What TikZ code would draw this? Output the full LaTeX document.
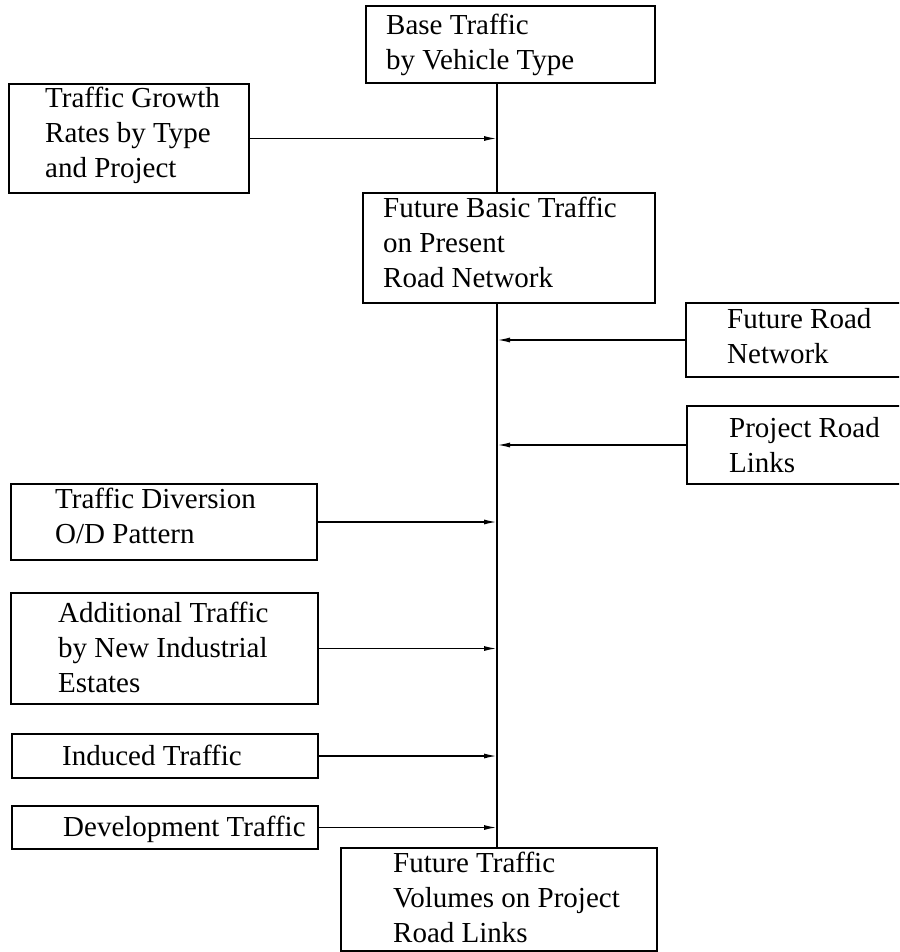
\documentclass[tikz,border=0pt]{standalone}
\usepackage{fontspec}
\setmainfont{Liberation Serif}
\usetikzlibrary{arrows.meta}
\begin{document}
\begin{tikzpicture}[x=1pt,y=-1pt,
  box/.style={draw, line width=2pt, inner sep=0pt, anchor=north west},
  txt/.style={anchor=base west, inner sep=0pt, align=left, font=\fontsize{29}{35}\selectfont},
  link/.style={line width=1.8pt},
  arr/.style={line width=1.5pt, -{Latex[length=13pt,width=5pt]}}]
\clip (0,0) rectangle (899,952);
\fill[white] (0,0) rectangle (899,952);
\coordinate (t) at (497,0);
% boxes
\node[box, minimum width=289, minimum height=77] (base) at (365,5) {};
\node[box, minimum width=240, minimum height=109] (growth) at (8,83) {};
\node[box, minimum width=292, minimum height=110] (fb) at (362,192) {};
\node[box, minimum width=240, minimum height=74] (fr) at (685,302) {};
\node[box, minimum width=240, minimum height=78] (pr) at (686,405) {};
\node[box, minimum width=306, minimum height=76] (div) at (10,483) {};
\node[box, minimum width=307, minimum height=111] (add) at (10,592) {};
\node[box, minimum width=306, minimum height=44] (ind) at (11,733) {};
\node[box, minimum width=306, minimum height=43] (dev) at (11,805) {};
\node[box, minimum width=316, minimum height=103] (fv) at (340,847) {};
% texts (anchor = baseline of last line)
\node[txt] (tbase) at (386,70) {Base Traffic\\by Vehicle Type};
\node[txt] (tgrowth) at (45,178) {Traffic Growth\\Rates by Type\\and Project};
\node[txt] (tfb) at (383,287) {Future Basic Traffic\\on Present\\Road Network};
\node[txt] (tfr) at (727,363) {Future Road\\Network};
\node[txt] (tpr) at (729,472) {Project Road\\Links};
\node[txt] (tdiv) at (55,543) {Traffic Diversion\\O/D Pattern};
\node[txt] (tadd) at (58,692) {Additional Traffic\\by New Industrial\\Estates};
\node[txt] (tind) at (62,765) {Induced Traffic};
\node[txt] (tdev) at (63,836) {Development Traffic};
\node[txt] (tfv) at (393,942) {Future Traffic\\Volumes on Project\\Road Links};
% trunk
\draw[link] (base.south -| t) -- (fb.north -| t);
\draw[link] (fb.south -| t) -- (fv.north -| t);
% arrows
\draw[arr] (growth.east) -- (growth.east -| t);
\draw[arr] (fr.west) -- (fr.west -| t);
\draw[arr] (pr.west) -- (pr.west -| t);
\draw[arr] (div.east) -- (div.east -| t);
\draw[arr] (add.east) -- (add.east -| t);
\draw[arr] (ind.east) -- (ind.east -| t);
\draw[arr] (dev.east) -- (dev.east -| t);
\end{tikzpicture}
\end{document}
